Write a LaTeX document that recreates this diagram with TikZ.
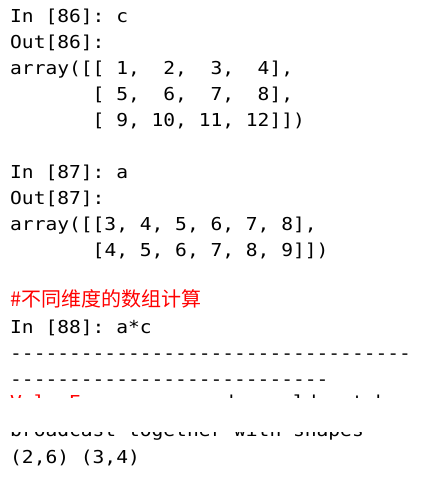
\documentclass[tikz,border=0pt]{standalone}
\usepackage{fontspec}
\setmonofont[FakeStretch=1.1]{DejaVu Sans Mono}
\newfontfamily\cjkfont{Noto Sans CJK SC}
\newcommand\codefont{\fontsize{17.8pt}{25.9pt}\selectfont\ttfamily}
\newcommand\notefont{\fontsize{20pt}{25.9pt}\selectfont\cjkfont}
\definecolor{errred}{RGB}{255,0,0}
\begin{document}
\begin{tikzpicture}[x=1pt,y=-1pt,
    line/.style={anchor=base west,inner sep=0pt,font=\codefont},
    note/.style={anchor=base west,inner sep=0pt,font=\notefont,text=errred}]
  \useasboundingbox (0,0) rectangle (436,479);
  \path
    (10,23.0) node[line] (in86){In [86]: c}
    (10,48.9) node[line] (out86){Out[86]:}
    (10,74.8) node[line] (row1){array([[~1,~~2,~~3,~~4],}
    (10,100.7) node[line] (row2){~~~~~~~[~5,~~6,~~7,~~8],}
    (10,126.6) node[line] (row3){~~~~~~~[~9,~10,~11,~12]])}
    (10,178.4) node[line] (in87){In [87]: a}
    (10,204.3) node[line] (out87){Out[87]:}
    (10,230.2) node[line] (rowa){array([[3,~4,~5,~6,~7,~8],}
    (10,256.1) node[line] (rowb){~~~~~~~[4,~5,~6,~7,~8,~9]])}
    (10,306.0) node[note] (note){\#不同维度的数组计算}
    (10,333.8) node[line] (in88){In [88]: a*c}
    (10,359.7) node[line] (sepa){----------------------------------}
    (10,385.6) node[line] (sepb){---------------------------}
    (10,408.0) node[line] (err){\textcolor{errred}{ValueError}: operands could not be}
    (10,436.0) node[line] (msg){broadcast together with shapes}
    (10,463.3) node[line] (shapes){(2,6) (3,4)};
  % the hidden strip of the traceback
  \fill[white] (0,398) rectangle (436,432);
\end{tikzpicture}
\end{document}
